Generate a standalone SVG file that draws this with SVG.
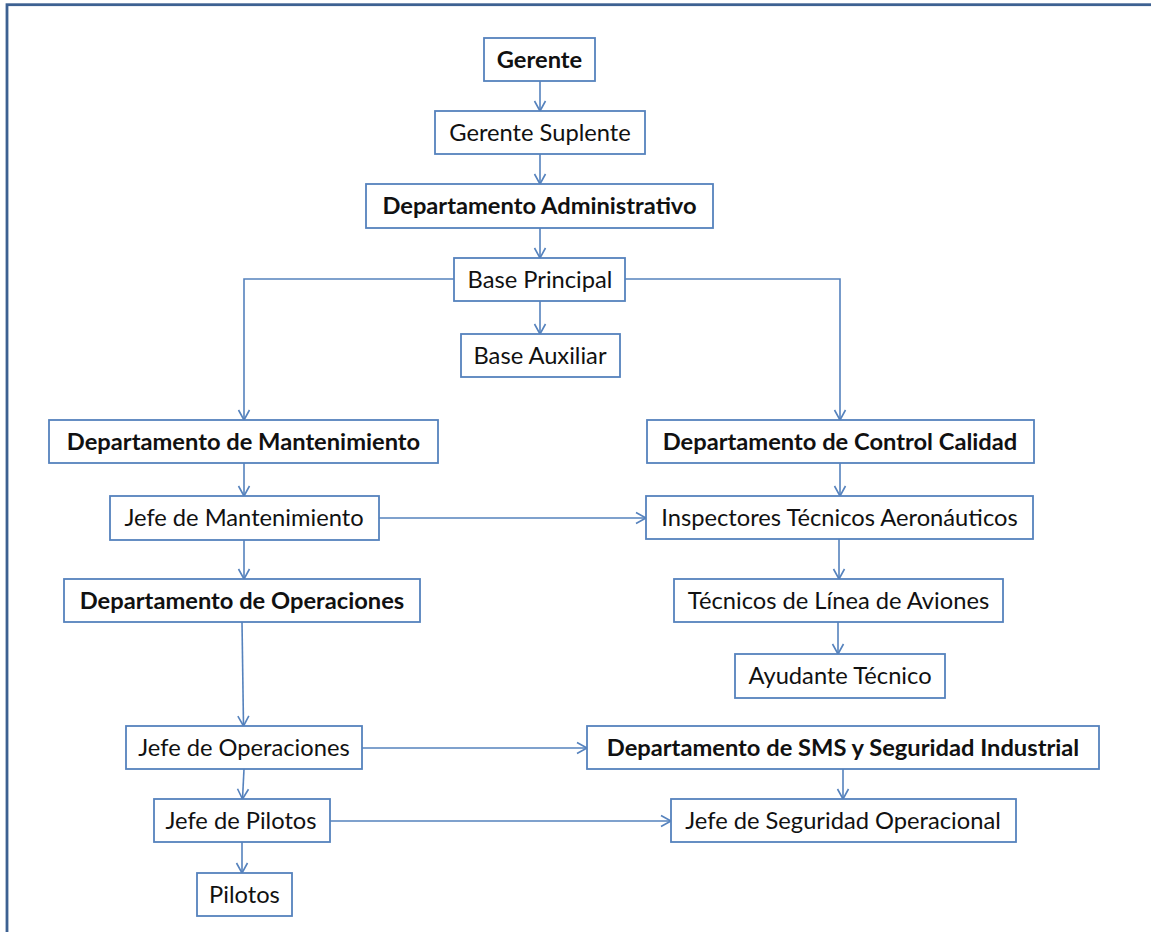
<svg xmlns="http://www.w3.org/2000/svg" width="1151" height="932" viewBox="0 0 1151 932">
<style>
.box{fill:#ffffff;stroke:#5582bd;stroke-width:1.8}
.t{font-family:Lato,"Liberation Sans",sans-serif;font-size:23.7px;fill:#111111;text-anchor:middle}
.b{font-weight:bold}
.c{fill:none;stroke:#5582bd;stroke-width:1.6}
</style>
<defs>
<marker id="arr" markerUnits="userSpaceOnUse" markerWidth="16" markerHeight="16" viewBox="-13 -8 16 16" refX="0" refY="0" orient="auto">
<path d="M-10,-5.5 L0,0 L-10,5.5" fill="none" stroke="#5582bd" stroke-width="1.6"/>
</marker>
</defs>
<rect x="0" y="0" width="1151" height="932" fill="#ffffff"/>
<rect x="7" y="4.7" width="1200" height="1000" fill="none" stroke="#3d6192" stroke-width="2.8"/>
<g id="connectors">
<line class="c" x1="540" y1="81" x2="540" y2="111" marker-end="url(#arr)"/>
<line class="c" x1="540" y1="154" x2="540" y2="184" marker-end="url(#arr)"/>
<line class="c" x1="540" y1="228" x2="540" y2="258" marker-end="url(#arr)"/>
<line class="c" x1="540" y1="301" x2="540" y2="334" marker-end="url(#arr)"/>
<polyline class="c" points="454,279 244,279 244,420" marker-end="url(#arr)"/>
<polyline class="c" points="625,279 840,279 840,420" marker-end="url(#arr)"/>
<line class="c" x1="244" y1="463" x2="244" y2="496" marker-end="url(#arr)"/>
<line class="c" x1="840" y1="463" x2="840" y2="496" marker-end="url(#arr)"/>
<line class="c" x1="379" y1="518" x2="646" y2="518" marker-end="url(#arr)"/>
<line class="c" x1="244" y1="540" x2="244" y2="579" marker-end="url(#arr)"/>
<line class="c" x1="839" y1="539" x2="839" y2="579" marker-end="url(#arr)"/>
<line class="c" x1="242" y1="622" x2="243.5" y2="726" marker-end="url(#arr)"/>
<line class="c" x1="838" y1="622" x2="838" y2="654" marker-end="url(#arr)"/>
<line class="c" x1="362" y1="748" x2="587" y2="748" marker-end="url(#arr)"/>
<line class="c" x1="244" y1="769" x2="242.5" y2="799" marker-end="url(#arr)"/>
<line class="c" x1="843" y1="769" x2="843" y2="799" marker-end="url(#arr)"/>
<line class="c" x1="330" y1="821" x2="671" y2="821" marker-end="url(#arr)"/>
<line class="c" x1="242" y1="842" x2="242" y2="873" marker-end="url(#arr)"/>
</g>
<g id="gerente"><rect class="box" x="484" y="38" width="111" height="43"/><text class="t b" x="539.5" y="68">Gerente</text></g>
<g id="gerente-suplente"><rect class="box" x="435" y="111" width="210" height="43"/><text class="t" x="540" y="141">Gerente Suplente</text></g>
<g id="dep-administrativo"><rect class="box" x="366" y="184" width="347" height="44"/><text class="t b" x="539.5" y="214">Departamento Administrativo</text></g>
<g id="base-principal"><rect class="box" x="454" y="258" width="171" height="43"/><text class="t" x="540" y="288">Base Principal</text></g>
<g id="base-auxiliar"><rect class="box" x="461" y="334" width="159" height="43"/><text class="t" x="540" y="364">Base Auxiliar</text></g>
<g id="dep-mantenimiento"><rect class="box" x="49" y="420" width="389" height="43"/><text class="t b" x="243.5" y="450">Departamento de Mantenimiento</text></g>
<g id="dep-control-calidad"><rect class="box" x="647" y="420" width="387" height="43"/><text class="t b" x="840" y="450">Departamento de Control Calidad</text></g>
<g id="jefe-mantenimiento"><rect class="box" x="110" y="496" width="269" height="44"/><text class="t" x="244" y="526">Jefe de Mantenimiento</text></g>
<g id="inspectores"><rect class="box" x="646" y="496" width="387" height="43"/><text class="t" x="839.5" y="526">Inspectores Técnicos Aeronáuticos</text></g>
<g id="dep-operaciones"><rect class="box" x="64" y="579" width="356" height="43"/><text class="t b" x="242" y="609">Departamento de Operaciones</text></g>
<g id="tecnicos-linea"><rect class="box" x="674" y="579" width="329" height="43"/><text class="t" x="838.5" y="609">Técnicos de Línea de Aviones</text></g>
<g id="ayudante"><rect class="box" x="735" y="654" width="210" height="44"/><text class="t" x="840" y="684">Ayudante Técnico</text></g>
<g id="jefe-operaciones"><rect class="box" x="126" y="726" width="236" height="43"/><text class="t" x="244" y="756">Jefe de Operaciones</text></g>
<g id="dep-sms"><rect class="box" x="587" y="726" width="512" height="43"/><text class="t b" x="843" y="756">Departamento de SMS y Seguridad Industrial</text></g>
<g id="jefe-pilotos"><rect class="box" x="154" y="799" width="176" height="43"/><text class="t" x="241" y="829">Jefe de Pilotos</text></g>
<g id="jefe-seguridad"><rect class="box" x="671" y="799" width="345" height="43"/><text class="t" x="843" y="829">Jefe de Seguridad Operacional</text></g>
<g id="pilotos"><rect class="box" x="197" y="873" width="95" height="43"/><text class="t" x="244.5" y="903">Pilotos</text></g>
</svg>
